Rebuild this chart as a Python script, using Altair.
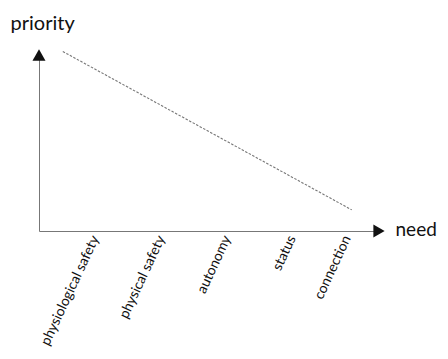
import altair as alt
import pandas as pd

# categories along the "need" axis and their positions
needs = ["physiological safety", "physical safety", "autonomy", "status", "connection"]
need_pos = [0.165, 0.359, 0.553, 0.744, 0.906]

# the dotted priority line (start, end)
line_x = [0.07, 0.92]
line_y = [1.02, 0.12]

FONT = "Lato"

label_map = " : ".join(
    [f"abs(datum.value-{p})<0.001 ? '{n}'" for p, n in zip(need_pos, needs)]
) + " : ''"

line_df = pd.DataFrame({"x": line_x, "y": line_y})

xscale = alt.Scale(domain=[0, 1], nice=False, zero=False)
yscale = alt.Scale(domain=[0, 1], nice=False, zero=False)

base_axis_x = alt.Axis(
    values=need_pos, labelExpr=label_map, labelAngle=-65, labelAlign="right",
    labelBaseline="middle", labelPadding=5, labelFontSize=14, labelFont=FONT,
    labelColor="#111", ticks=False, grid=False, domainColor="#777",
    title="need", titleFont=FONT, titleFontSize=19, titleFontWeight="normal",
    titleAngle=0, titleAlign="left", titleBaseline="middle",
    titleX=356, titleY=-2, titleColor="#111", labelOverlap=False, labelBound=False,
    labelFlush=False,
)
base_axis_y = alt.Axis(
    values=[], ticks=False, grid=False, labels=False, domainColor="#777",
    title="priority", titleFont=FONT, titleFontSize=20, titleFontWeight="normal",
    titleAngle=0, titleAlign="left", titleBaseline="middle",
    titleX=-29, titleY=-32, titleColor="#111",
)

line = alt.Chart(line_df).mark_line(
    color="#777", strokeWidth=1.1, strokeDash=[2.5, 1.5], clip=False
).encode(
    x=alt.X("x:Q", scale=xscale, axis=base_axis_x),
    y=alt.Y("y:Q", scale=yscale, axis=base_axis_y),
)

arrows_df = pd.DataFrame({"x": [0, 1], "y": [1, 0], "shape": ["triangle-up", "triangle-right"]})
arrows = alt.Chart(arrows_df).mark_point(
    filled=True, color="#111", size=170, opacity=1, clip=False
).encode(
    x=alt.X("x:Q", scale=xscale),
    y=alt.Y("y:Q", scale=yscale),
    shape=alt.Shape("shape:N", scale=None, legend=None),
)

chart = alt.layer(line, arrows).properties(
    width=340, height=176,
    background="white",
    autosize=alt.AutoSizeParams(type="none"),
    padding={"left": 39, "top": 55, "right": 69, "bottom": 128},
).configure_view(stroke=None, strokeWidth=0)

chart.save("out.html", embed_options={"renderer": "svg", "actions": False})
